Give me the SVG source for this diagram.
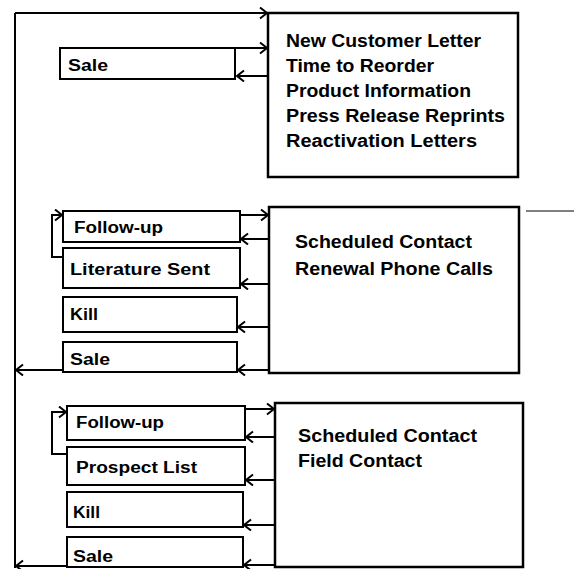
<svg xmlns="http://www.w3.org/2000/svg" width="576" height="569" viewBox="0 0 576 569">
<style>
.box{fill:#fff;stroke:#000;stroke-width:2}
.big{fill:#fff;stroke:#000;stroke-width:2.5}
.t{font-family:"Liberation Sans",Arial,sans-serif;font-weight:bold;font-size:16px;fill:#000}
.bt{font-family:"Liberation Sans",Arial,sans-serif;font-weight:bold;font-size:18px;fill:#000}
.c{fill:none;stroke:#000;stroke-width:2}
.a{marker-end:url(#arr)}
</style>
<defs>
<marker id="arr" markerUnits="userSpaceOnUse" markerWidth="14" markerHeight="14" refX="10" refY="6" orient="auto">
<path d="M3,0.5 L10,6 L3,11.5" fill="none" stroke="#000" stroke-width="2"/>
</marker>
</defs>
<rect width="576" height="569" fill="#fff"/>
<g id="connectors">
<path class="c" d="M15,568 V13"/>
<path class="c a" d="M15,13 H267"/>
<path class="c a" d="M235,48 H267"/>
<path class="c a" d="M268,76 H237"/>
<path class="c a" d="M240,215 H268"/>
<path class="c a" d="M269,239 H241"/>
<path class="c a" d="M269,284 H241"/>
<path class="c a" d="M269,327 H238"/>
<path class="c a" d="M269,370 H238"/>
<path class="c a" d="M63,257 H52 V215 H62"/>
<path class="c a" d="M63,370 H16"/>
<path class="c a" d="M245,409 H274"/>
<path class="c a" d="M275,437 H246"/>
<path class="c a" d="M275,480 H246"/>
<path class="c a" d="M275,525 H244"/>
<path class="c a" d="M275,565 H244"/>
<path class="c a" d="M67,454 H52 V412 H66"/>
<path class="c a" d="M67,566 H16"/>
<path d="M526,211 H574" stroke="#555" stroke-width="1.5"/>
</g>
<g id="box1">
<rect class="big" x="268" y="13" width="250" height="164"/>
<text class="bt" x="286" y="47" textLength="195" lengthAdjust="spacingAndGlyphs">New Customer Letter</text>
<text class="bt" x="286" y="72" textLength="148" lengthAdjust="spacingAndGlyphs">Time to Reorder</text>
<text class="bt" x="286" y="97" textLength="185" lengthAdjust="spacingAndGlyphs">Product Information</text>
<text class="bt" x="286" y="122" textLength="219" lengthAdjust="spacingAndGlyphs">Press Release Reprints</text>
<text class="bt" x="286" y="147" textLength="191" lengthAdjust="spacingAndGlyphs">Reactivation Letters</text>
</g>
<g id="sale1">
<rect class="box" x="60" y="48" width="175" height="31"/>
<text class="t" x="68" y="71" textLength="40" lengthAdjust="spacingAndGlyphs">Sale</text>
</g>
<g id="box2">
<rect class="big" x="269" y="207" width="250" height="166"/>
<text class="bt" x="295" y="248" textLength="177" lengthAdjust="spacingAndGlyphs">Scheduled Contact</text>
<text class="bt" x="295" y="275" textLength="198" lengthAdjust="spacingAndGlyphs">Renewal Phone Calls</text>
</g>
<g id="followup2">
<rect class="box" x="63" y="211" width="177" height="31"/>
<text class="t" x="74" y="233" textLength="89" lengthAdjust="spacingAndGlyphs">Follow-up</text>
</g>
<g id="literature">
<rect class="box" x="63" y="248" width="177" height="40" stroke-width="2.5"/>
<text class="t" x="70" y="275" textLength="140" lengthAdjust="spacingAndGlyphs">Literature Sent</text>
</g>
<g id="kill2">
<rect class="box" x="63" y="297" width="174" height="35" stroke-width="2.5"/>
<text class="t" x="70" y="320" textLength="28" lengthAdjust="spacingAndGlyphs">Kill</text>
</g>
<g id="sale2">
<rect class="box" x="63" y="342" width="174" height="30" stroke-width="2.5"/>
<text class="t" x="70" y="365" textLength="40" lengthAdjust="spacingAndGlyphs">Sale</text>
</g>
<g id="box3">
<rect class="big" x="275" y="403" width="248" height="164" stroke-width="3"/>
<text class="bt" x="298" y="442" textLength="179" lengthAdjust="spacingAndGlyphs">Scheduled Contact</text>
<text class="bt" x="298" y="467" textLength="124" lengthAdjust="spacingAndGlyphs">Field Contact</text>
</g>
<g id="followup3">
<rect class="box" x="67" y="406" width="178" height="34"/>
<text class="t" x="76" y="428" textLength="88" lengthAdjust="spacingAndGlyphs">Follow-up</text>
</g>
<g id="prospect">
<rect class="box" x="67" y="447" width="178" height="38"/>
<text class="t" x="76" y="473" textLength="121" lengthAdjust="spacingAndGlyphs">Prospect List</text>
</g>
<g id="kill3">
<rect class="box" x="67" y="492" width="176" height="35"/>
<text class="t" x="73" y="518" textLength="27" lengthAdjust="spacingAndGlyphs">Kill</text>
</g>
<g id="sale3">
<rect class="box" x="67" y="537" width="176" height="30"/>
<text class="t" x="73" y="562" textLength="40" lengthAdjust="spacingAndGlyphs">Sale</text>
</g>
</svg>
